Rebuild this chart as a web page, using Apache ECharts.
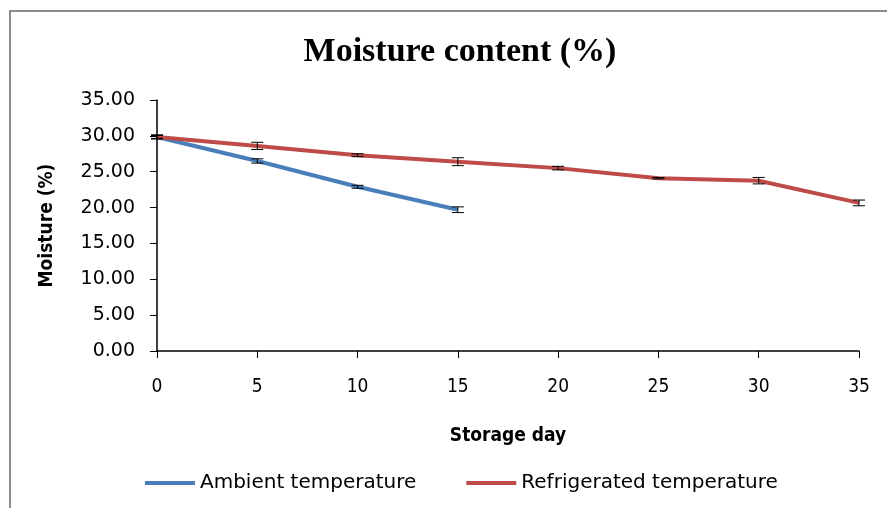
<!DOCTYPE html>
<html>
<head>
<meta charset="utf-8">
<title>Moisture content</title>
<script src="https://cdn.jsdelivr.net/npm/echarts@6/dist/echarts.min.js"></script>
<style>
  html, body { margin: 0; padding: 0; background: #fff; }
  #main { width: 887px; height: 508px; }
</style>
</head>
<body>
<div id="main"></div>
<script>
// storage days and moisture readings (%)
var days = [0, 5, 10, 15, 20, 25, 30, 35];
var ambient = [29.85, 26.5, 22.9, 19.7];
var ambientErr = [0.2, 0.3, 0.2, 0.4];
var refrigerated = [29.85, 28.6, 27.3, 26.4, 25.5, 24.1, 23.75, 20.65];
var refrigeratedErr = [0.3, 0.5, 0.2, 0.55, 0.25, 0.1, 0.45, 0.4];
var yTicks = [0, 5, 10, 15, 20, 25, 30, 35];

function pairs(vals) {
  return vals.map(function (v, i) { return [days[i], v]; });
}
function errRows(vals, errs) {
  return vals.map(function (v, i) { return [days[i], v - errs[i], v + errs[i]]; });
}

// error bar: vertical line + two caps
function renderErr(params, api) {
  var lo = api.coord([api.value(0), api.value(1)]);
  var hi = api.coord([api.value(0), api.value(2)]);
  var w = 6;
  var st = { stroke: '#000', lineWidth: 1 };
  return {
    type: 'group',
    children: [
      { type: 'line', shape: { x1: hi[0], y1: hi[1], x2: lo[0], y2: lo[1] }, style: st },
      { type: 'line', shape: { x1: hi[0] - w, y1: hi[1], x2: hi[0] + w, y2: hi[1] }, style: st },
      { type: 'line', shape: { x1: lo[0] - w, y1: lo[1], x2: lo[0] + w, y2: lo[1] }, style: st }
    ]
  };
}

var chart = echarts.init(document.getElementById('main'));
chart.setOption({
  animation: false,
  backgroundColor: '#fff',
  title: {
    text: 'Moisture content (%)',
    left: 455,
    top: 30,
    textAlign: 'center',
    textStyle: { fontFamily: 'Liberation Serif', fontWeight: 'bold', fontSize: 34, color: '#000' }
  },
  graphic: [{
    type: 'rect',
    shape: { x: 10, y: 11, width: 1000, height: 600 },
    style: { fill: 'none', stroke: '#8c8c8c', lineWidth: 2 },
    silent: true
  }],
  legend: {
    left: 140,
    top: 468,
    itemWidth: 50,
    itemHeight: 4,
    itemGap: 50,
    icon: 'rect',
    textStyle: { fontFamily: 'DejaVu Sans', fontSize: 20, color: '#000' },
    data: ['Ambient temperature', 'Refrigerated temperature']
  },
  grid: { left: 157, right: 28, top: 100, bottom: 157 },
  xAxis: {
    type: 'value',
    min: 0, max: 35, interval: 5,
    name: 'Storage day',
    nameLocation: 'middle',
    nameGap: 76,
    nameTextStyle: { fontFamily: 'DejaVu Sans Condensed', fontWeight: 'bold', fontSize: 19, color: '#000' },
    axisLine: { lineStyle: { color: '#000', width: 1.5 } },
    axisTick: { show: true, length: 7, lineStyle: { color: '#000' } },
    axisLabel: { margin: 27, fontFamily: 'DejaVu Sans Condensed', fontSize: 19, color: '#000' },
    splitLine: { show: false }
  },
  yAxis: {
    type: 'value',
    min: 0, max: 35, interval: 5,
    name: 'Moisture (%)',
    nameLocation: 'middle',
    nameGap: 100,
    nameTextStyle: { fontFamily: 'DejaVu Sans Condensed', fontWeight: 'bold', fontSize: 19, color: '#000' },
    axisLine: { show: true, lineStyle: { color: '#000', width: 1.5 } },
    axisTick: { show: true, length: 7, lineStyle: { color: '#000' } },
    axisLabel: {
      margin: 22, fontFamily: 'DejaVu Sans', fontSize: 19, color: '#000',
      formatter: function (v) { return yTicks.indexOf(v) >= 0 ? v.toFixed(2) : ''; }
    },
    splitLine: { show: false }
  },
  series: [
    {
      name: 'Ambient temperature',
      type: 'line',
      data: pairs(ambient),
      showSymbol: false,
      lineStyle: { color: '#4a7ebb', width: 4 },
      itemStyle: { color: '#4a7ebb' },
      z: 2
    },
    {
      name: 'Refrigerated temperature',
      type: 'line',
      data: pairs(refrigerated),
      showSymbol: false,
      lineStyle: { color: '#be4b48', width: 4 },
      itemStyle: { color: '#be4b48' },
      z: 2
    },
    {
      type: 'custom',
      renderItem: renderErr,
      data: errRows(ambient, ambientErr),
      encode: { x: 0, y: [1, 2] },
      z: 3
    },
    {
      type: 'custom',
      renderItem: renderErr,
      data: errRows(refrigerated, refrigeratedErr),
      encode: { x: 0, y: [1, 2] },
      z: 3
    }
  ]
});
</script>
</body>
</html>
